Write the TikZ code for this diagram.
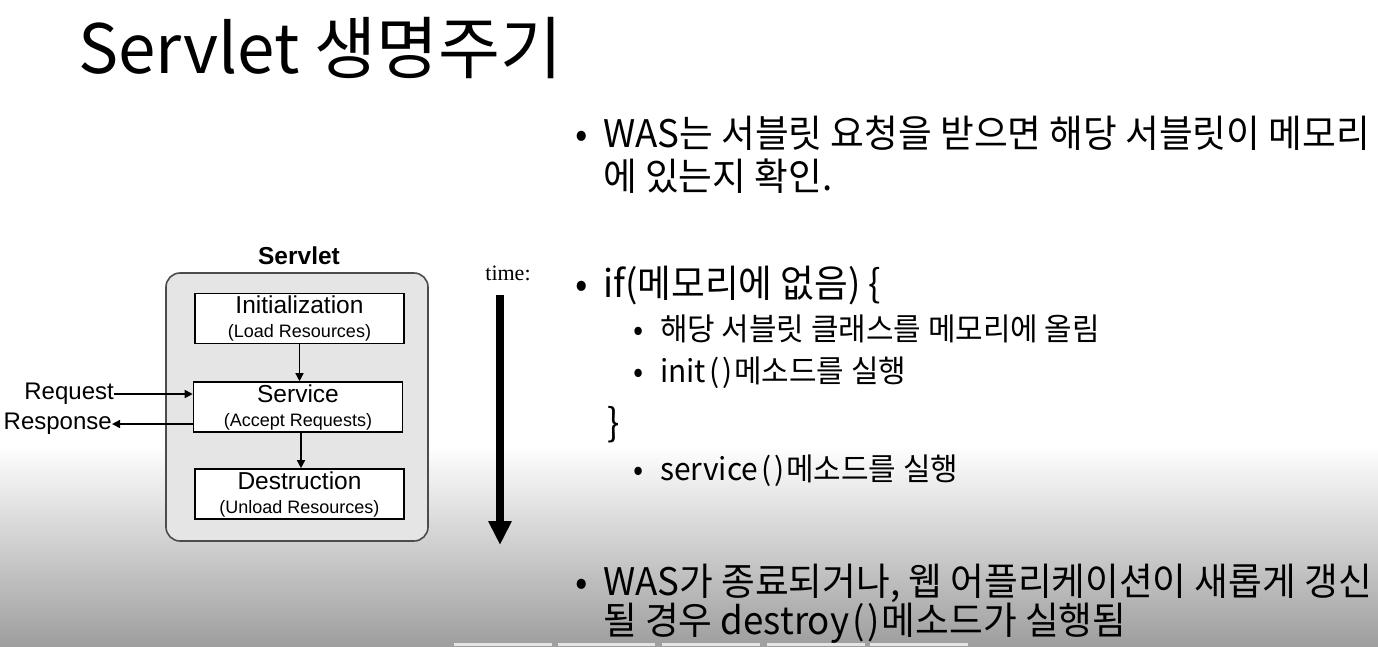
\documentclass[tikz,border=0pt]{standalone}
\usepackage{fontspec}
\setmainfont{Liberation Sans}
\newfontfamily\krt[FakeStretch=0.99]{Noto Sans CJK KR}
\newfontfamily\kr[FakeStretch=0.965]{Noto Sans CJK KR}
\newfontfamily\tserif{Liberation Serif}
\newcommand\subline[1]{{\fontsize{18}{24}\selectfont #1}}
\usetikzlibrary{arrows.meta}
\begin{document}
\begin{tikzpicture}[x=1pt,y=-1pt,
  txt/.style={anchor=base west,inner sep=0pt},
  titlef/.style={txt,font=\krt\fontsize{68}{80}\selectfont},
  mainf/.style={txt,font=\kr\fontsize{38}{44}\selectfont},
  subf/.style={txt,font=\kr\fontsize{31}{36}\selectfont},
  stagebox/.style={draw=black,line width=1.6pt,fill=white,minimum width=209pt,minimum height=50pt,inner sep=0pt,align=center,font=\fontsize{24.5}{24}\selectfont},
  flow/.style={draw=black,line width=1.4pt,-{Triangle[length=8pt,width=8pt]}},
  diag/.style={inner sep=0pt,font=\fontsize{24}{26}\selectfont}
]
\useasboundingbox (0,0) rectangle (1378,646);
\fill[white] (0,0) rectangle (1378,646);
\shade[top color=white,bottom color=black!38] (0,445) rectangle (1378,646);
\foreach \a/\b in {454/552,558/655,662/760,767/865,870/968}
  \fill[black!10] (\a,643) rectangle (\b,646);

% title
\node[titlef] (title) at (78,73) {Servlet 생명주기};

% bullets
\node[mainf] (b1) at (575,147) {•};
\node[mainf] (l1) at (603,147) {WAS는 서블릿 요청을 받으면 해당 서블릿이 메모리};
\node[mainf] (l2) at (603,190) {에 있는지 확인.};
\node[mainf] (b2) at (575,297) {•};
\node[mainf] (l3) at (603,297) {if(메모리에 없음) \{};
\node[subf] (b3) at (633,340) {•};
\node[subf] (l4) at (660,340) {해당 서블릿 클래스를 메모리에 올림};
\node[subf] (b4) at (633,382) {•};
\node[subf] (l5) at (660,382) {init\kern3pt(\kern3pt)\kern2pt메소드를 실행};
\node[mainf] (l6) at (607,436) {\}};
\node[subf] (b5) at (633,480) {•};
\node[subf] (l7) at (660,480) {service\kern3pt(\kern3pt)\kern2pt메소드를 실행};
\node[mainf] (b6) at (575,595) {•};
\node[mainf] (l8) at (603,595) {WAS가 종료되거나, 웹 어플리케이션이 새롭게 갱신};
\node[mainf] (l9) at (603,634) {될 경우 destroy\kern3pt(\kern3pt)\kern2pt메소드가 실행됨};

% diagram
\node[inner sep=0pt,font=\bfseries\fontsize{24.5}{26}\selectfont] (stitle) at (299,256) {Servlet};
\node[draw=black!70,line width=1.6pt,fill=black!10,rounded corners=14pt,minimum width=262pt,minimum height=268pt] (outer) at (297,407) {};
\node[stagebox] (init) at (299.5,318.5) {Initialization\\\subline{(Load Resources)}};
\node[stagebox] (svc) at (298,407) {Service\\\subline{(Accept Requests)}};
\node[stagebox] (dest) at (299.5,494) {Destruction\\\subline{(Unload Resources)}};
\draw[flow] (init.south) -- (init.south |- svc.north);
\draw[flow] ([xshift=3pt]svc.south) -- ([xshift=3pt]svc.south |- dest.north);
\node[diag,anchor=east] (req) at (114,394) {Request};
\node[diag,anchor=east] (resp) at (112,424) {Response};
\draw[flow] (req.east) -- (req.east -| svc.west);
\draw[flow] (svc.west |- resp.east) -- (resp.east);

% time arrow
\node[inner sep=0pt,font=\tserif\fontsize{22}{24}\selectfont] (time) at (508,273) {time:};
\coordinate (tstart) at (500,295);
\coordinate (tend) at (500,545);
\draw[line width=8pt,-{Triangle[length=24pt,width=22pt]}] (tstart) -- (tend);
\end{tikzpicture}
\end{document}
